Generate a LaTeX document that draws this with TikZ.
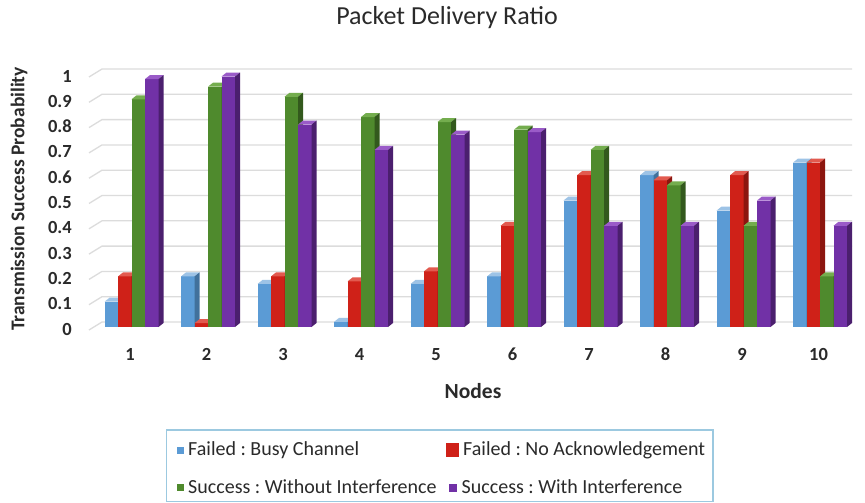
\documentclass[tikz,border=0pt]{standalone}
\usepackage{fontspec}
\setmainfont{Carlito}
\frenchspacing

% series colours: front, top and side faces
\definecolor{cbF}{HTML}{5B9BD5}\definecolor{cbT}{HTML}{9DC3E6}\definecolor{cbS}{HTML}{41719C}
\definecolor{crF}{HTML}{CF2118}\definecolor{crT}{HTML}{E25A4F}\definecolor{crS}{HTML}{8C160F}
\definecolor{cgF}{HTML}{4F8A2D}\definecolor{cgT}{HTML}{74AD4E}\definecolor{cgS}{HTML}{33591D}
\definecolor{cpF}{HTML}{7131A6}\definecolor{cpT}{HTML}{9A5BC8}\definecolor{cpS}{HTML}{4B1F6E}
\definecolor{txt}{HTML}{2A2A2A}
\definecolor{gridc}{HTML}{DCDCDC}
\definecolor{legc}{HTML}{9CC9E0}

% one 3-D column: #1 left x, #2 value, #3 colour prefix
\newcommand\drawcol[3]{%
  \pgfmathsetmacro\ytop{327-253*#2}%
  \fill[#3F] (#1,327) rectangle ({#1+13.5},\ytop);
  \fill[#3T] (#1,\ytop) -- ++(5,-4) -- ++(13.5,0) -- ++(-5,4) -- cycle;
  \fill[#3S] ({#1+13.5},327) -- ({#1+13.5},\ytop) -- ++(5,-4) -- ({#1+18.5},323) -- cycle;
}

\begin{document}
\begin{tikzpicture}[x=1pt,y=-1pt,
  every node/.style={inner sep=0pt,text=txt},
  gridline/.style={draw=gridc,line width=1.3pt},
  ticklab/.style={font=\fontsize{18.5}{20}\selectfont\bfseries},
  legtext/.style={anchor=base west,font=\fontsize{20}{22}\selectfont}]
\useasboundingbox (0,0) rectangle (865,503);
\fill[white] (0,0) rectangle (865,503);

% title
\node[anchor=base,font=\fontsize{26}{30}\selectfont] (title) at (447,25) {Packet Delivery Ratio};

% back-wall grid lines with their floor diagonals
\foreach \k in {0,...,10}{
  \pgfmathsetmacro\yb{322-25.3*\k}
  \draw[gridline] (89,\yb+8) -- (102,\yb) -- (852,\yb);
}

% value axis labels
\foreach \k/\t in {0/0,1/0.1,2/0.2,3/0.3,4/0.4,5/0.5,6/0.6,7/0.7,8/0.8,9/0.9,10/1}
  \node[ticklab,anchor=base east] (yt\k) at (72,{335-25.3*\k}) {\t};

% columns: node / busy channel / no ack / without interf. / with interf.
\foreach \i/\vb/\vr/\vg/\vp in {1/.1/.2/.9/.98, 2/.2/.015/.95/.99, 3/.17/.2/.91/.8,
    4/.02/.18/.83/.7, 5/.17/.22/.81/.76, 6/.2/.4/.78/.77, 7/.5/.6/.7/.4,
    8/.6/.58/.56/.4, 9/.46/.6/.4/.5, 10/.65/.65/.2/.4}{
  \pgfmathsetmacro\xo{104.5+76.5*(\i-1)}
  \drawcol{\xo}{\vb}{cb}
  \drawcol{\xo+13.5}{\vr}{cr}
  \drawcol{\xo+27}{\vg}{cg}
  \drawcol{\xo+40.5}{\vp}{cp}
  \node[ticklab,anchor=base] (c\i) at ({130+76.5*(\i-1)},360) {\i};
}

% axis titles
\node[anchor=base,font=\fontsize{21.5}{24}\selectfont\bfseries] (xtitle) at (473,398.5) {Nodes};
\node[rotate=90,font=\fontsize{19.5}{22}\selectfont\bfseries] (ytitle) at (19,199) {Transmission Success Probability};

% legend
\draw[legc,line width=1.2pt] (166.7,430) rectangle (713,501.5);
\fill[cbF] (177,446.5) rectangle (184,453.5);
\node[legtext] (l1) at (188,455) {Failed : Busy Channel};
\fill[crF] (446,443) rectangle (459,456.5);
\node[legtext] (l2) at (463,455) {Failed : No Acknowledgement};
\fill[cgF] (177,484) rectangle (184,491);
\node[legtext] (l3) at (188,493) {Success : Without Interference};
\fill[cpF] (449,483.5) rectangle (457,491.5);
\node[legtext] (l4) at (461.5,493) {Success : With Interference};
\end{tikzpicture}
\end{document}
